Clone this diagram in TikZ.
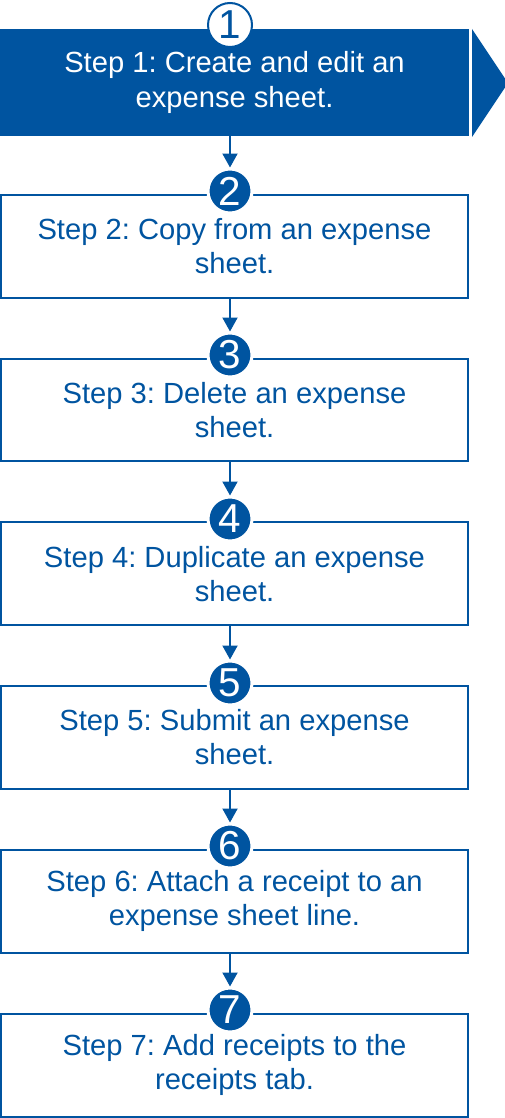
\documentclass[tikz,border=0pt]{standalone}
\usepackage{fontspec}
\setmainfont{Liberation Sans}
\usepackage{tikz}
\usetikzlibrary{arrows.meta}
\definecolor{stepblue}{RGB}{0,84,160}
\frenchspacing

\begin{document}
\begin{tikzpicture}[x=0.02cm,y=-0.02cm,
  stepbox/.style={draw=stepblue,line width=0.04cm,minimum width=9.34cm,minimum height=2.06cm,
    align=center,text=stepblue,font=\fontsize{16.6}{19.4}\selectfont,inner sep=0pt},
  firstbox/.style={stepbox,fill=stepblue,text=white,minimum height=2.1cm},
  stepnum/.style={circle,fill=stepblue,draw=white,line width=0.06cm,minimum size=0.88cm,
    inner sep=0pt,text=white,font=\fontsize{23}{23}\selectfont},
  link/.style={draw=stepblue,line width=0.04cm,-{Triangle[width=0.3cm,length=0.28cm]}}]
\useasboundingbox (0,0) rectangle (504,1118);
%%%% step 1
\node[firstbox] (s1) at (234.5,82.5) {Step 1: Create and edit an\\expense sheet.};
\fill[stepblue] (472,29) -- (508,83) -- (472,137) -- cycle;
\node[stepnum,fill=white,draw=stepblue,line width=0.04cm,text=stepblue] (n1) at (230,25) {1};
%%%% steps 2--7
\node[stepbox] (s2) at (234.5,246.5) {Step 2: Copy from an expense\\sheet.};
\node[stepnum] (n2) at (230,191) {2};
\node[stepbox] (s3) at (234.5,410) {Step 3: Delete an expense\\sheet.};
\node[stepnum] (n3) at (230,355) {3};
\node[stepbox] (s4) at (234.5,573.8) {Step 4: Duplicate an expense\\sheet.};
\node[stepnum] (n4) at (230,519) {4};
\node[stepbox] (s5) at (234.5,737.5) {Step 5: Submit an expense\\sheet.};
\node[stepnum] (n5) at (230,683) {5};
\node[stepbox] (s6) at (234.5,901.3) {Step 6: Attach a receipt to an\\expense sheet line.};
\node[stepnum] (n6) at (230,846) {6};
\node[stepbox] (s7) at (234.5,1065) {Step 7: Add receipts to the\\receipts tab.};
\node[stepnum] (n7) at (230,1010) {7};
%
\draw[link] (s1.south -| n2) -- (n2);
\draw[link] (s2.south -| n3) -- (n3);
\draw[link] (s3.south -| n4) -- (n4);
\draw[link] (s4.south -| n5) -- (n5);
\draw[link] (s5.south -| n6) -- (n6);
\draw[link] (s6.south -| n7) -- (n7);
\end{tikzpicture}
\end{document}
